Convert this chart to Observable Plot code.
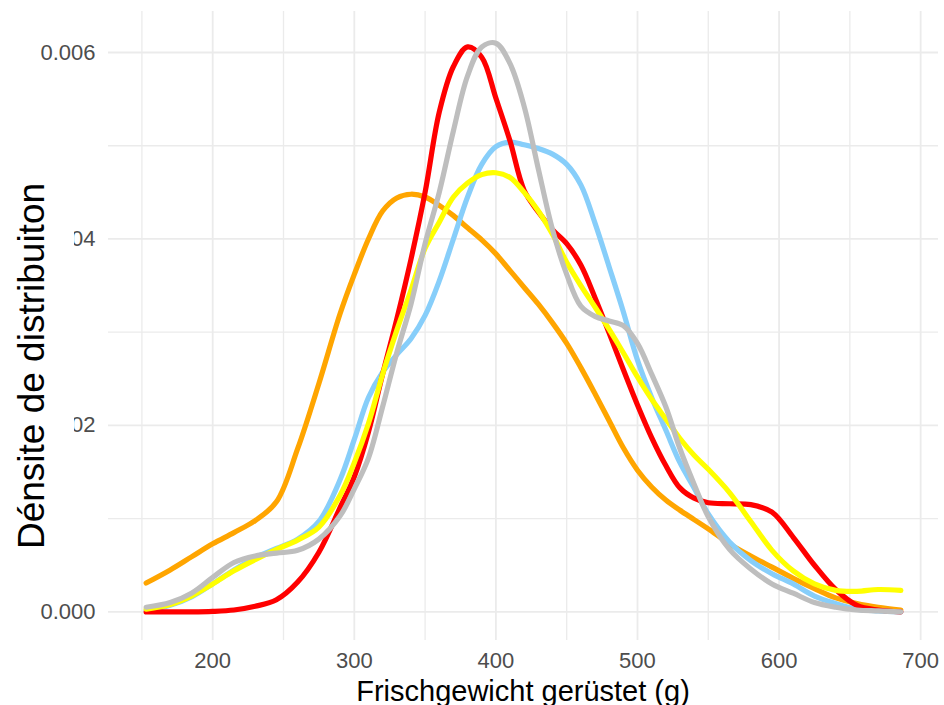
<!DOCTYPE html>
<html><head><meta charset="utf-8">
<script src="https://cdn.jsdelivr.net/npm/d3@7"></script>
<script src="https://cdn.jsdelivr.net/npm/@observablehq/plot@0.6"></script>
<style>
body{margin:0;background:#fff;}
#chart{width:944px;height:705px;overflow:hidden;}
</style>
</head><body><div id="chart"></div>
<script>
// Weight grid (g)
const xGrid = [153,170,185,200,215,230,245,260,275,290,300,310,320,330,340,350,360,370,380,390,400,410,420,430,440,450,460,470,480,490,500,510,520,530,540,550,565,580,595,610,625,640,655,670,686];
// Densities, in units of 0.001
const orangeD = [0.31,0.45,0.59,0.73,0.85,0.98,1.18,1.75,2.45,3.20,3.62,4.00,4.30,4.44,4.48,4.45,4.36,4.25,4.12,3.99,3.84,3.66,3.48,3.30,3.10,2.88,2.62,2.34,2.05,1.76,1.52,1.34,1.20,1.09,0.99,0.89,0.73,0.60,0.48,0.36,0.25,0.15,0.09,0.05,0.02];
const blueD   = [0.02,0.07,0.16,0.30,0.45,0.58,0.68,0.78,0.97,1.42,1.85,2.30,2.57,2.76,2.93,3.18,3.55,4.00,4.45,4.80,4.99,5.04,5.01,4.97,4.91,4.80,4.58,4.17,3.70,3.22,2.70,2.30,1.95,1.60,1.33,1.05,0.75,0.55,0.41,0.30,0.17,0.09,0.03,0.01,0.0];
const redD    = [0.0,0.0,0.0,0.005,0.02,0.06,0.13,0.32,0.64,1.12,1.45,1.93,2.55,3.14,3.78,4.50,5.36,5.85,6.06,5.95,5.51,5.05,4.52,4.29,4.10,3.95,3.72,3.37,2.99,2.60,2.22,1.87,1.57,1.33,1.22,1.17,1.16,1.15,1.07,0.80,0.50,0.24,0.07,0.02,0.0];
const yellowD = [0.03,0.08,0.17,0.30,0.44,0.56,0.67,0.77,0.91,1.25,1.60,2.02,2.55,3.02,3.45,3.90,4.18,4.45,4.60,4.69,4.71,4.66,4.50,4.30,4.05,3.75,3.50,3.27,3.03,2.78,2.52,2.28,2.07,1.86,1.68,1.53,1.28,0.97,0.66,0.44,0.30,0.23,0.22,0.24,0.23];
const grayD   = [0.05,0.10,0.20,0.37,0.53,0.60,0.63,0.66,0.78,1.03,1.32,1.65,2.20,2.78,3.30,3.95,4.50,5.16,5.75,6.06,6.10,5.88,5.42,4.75,4.10,3.62,3.28,3.17,3.12,3.07,2.88,2.55,2.20,1.75,1.37,1.02,0.67,0.46,0.30,0.20,0.10,0.05,0.02,0.01,0.0];

const seriesNames  = ["G1","G2","G3","G4","G5"];
const seriesColors = ["#FFA500","#87CEFA","#FF0000","#FFFF00","#BEBEBE"];
const seriesValues = [orangeD, blueD, redD, yellowD, grayD];

const xMajor = [200,300,400,500,600,700];
const xMinor = [150,250,350,450,550,650];
const xTicks = [200,300,400,500,600,700];
const yMajor = [0,0.002,0.004,0.006];
const yMinor = [0.001,0.003,0.005];
const yTicks = [0,0.002,0.004,0.006];

const xTitle = "Frischgewicht gerüstet (g)";
const yTitle = "Dénsite de distribuiton";

const rows = [];
seriesNames.forEach((s, i) => {
  xGrid.forEach((x, j) => rows.push({s, x, y: seriesValues[i][j] / 1000}));
});

const plot = Plot.plot({
  width: 944, height: 705,
  marginLeft: 108, marginRight: 6, marginTop: 11, marginBottom: 65,
  x: {domain: [126.4, 712.6]},
  y: {domain: [-0.000307, 0.00644]},
  color: {domain: seriesNames, range: seriesColors},
  style: {fontFamily: "'Liberation Sans', Arial, sans-serif", fontSize: "22px", color: "#4d4d4d", background: "#fff"},
  marks: [
    Plot.ruleX(xMinor, {stroke: "#ebebeb", strokeWidth: 1.3}),
    Plot.ruleY(yMinor, {stroke: "#ebebeb", strokeWidth: 1.3}),
    Plot.ruleX(xMajor, {stroke: "#ebebeb", strokeWidth: 1.8}),
    Plot.ruleY(yMajor, {stroke: "#ebebeb", strokeWidth: 1.8}),
    Plot.line(rows, {x: "x", y: "y", z: "s", stroke: "s", strokeWidth: 5.2, curve: "catmull-rom"}),
    Plot.axisX({ticks: xTicks, tickSize: 0, tickPadding: 12, label: null}),
    Plot.axisY({ticks: yTicks, tickSize: 0, tickPadding: 13, tickFormat: d3.format(".3f"), label: null})
  ]
});
document.getElementById("chart").appendChild(plot);

const svg = d3.select(plot);
svg.append("rect").attr("x", 0).attr("y", 170).attr("width", 74).attr("height", 390).attr("fill", "#fff");
svg.append("text")
  .attr("transform", "translate(44,366) rotate(-90)")
  .attr("text-anchor", "middle")
  .attr("fill", "#000")
  .style("font-size", "37px")
  .style("font-family", "'Liberation Sans', Arial, sans-serif")
  .text(yTitle);
svg.append("text")
  .attr("x", 523).attr("y", 701)
  .attr("text-anchor", "middle")
  .attr("fill", "#000")
  .style("font-size", "29px")
  .style("font-family", "'Liberation Sans', Arial, sans-serif")
  .text(xTitle);
</script>
</body></html>
